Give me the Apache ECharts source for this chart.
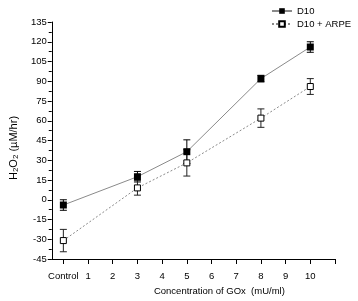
<!DOCTYPE html>
<html>
<head>
<meta charset="utf-8">
<script src="https://cdn.jsdelivr.net/npm/echarts@6/dist/echarts.min.js"></script>
<style>
  html, body { margin: 0; padding: 0; background: #fff; }
  #chart { width: 358px; height: 301px; }
</style>
</head>
<body>
<div id="chart"></div>
<script>
// GOx concentration (mU/ml), Control plotted at 0
const xVals = [0, 3, 5, 8, 10]
const d10 = [-4, 17.5, 36.5, 92, 116]
const d10Err = [4, 4, 9, 2.5, 4]
const arpe = [-31, 9, 28, 62, 86]
const arpeErr = [8.5, 5.5, 10, 7, 6]
const xTickLabels = ['Control', '1', '2', '3', '4', '5', '6', '7', '8', '9', '10']
const yTicks = [-45, -30, -15, 0, 15, 30, 45, 60, 75, 90, 105, 120, 135]

const font = 'Liberation Sans, Arial, sans-serif'

const pairs = (ys) => xVals.map((x, i) => [x, ys[i]])
const errRows = (ys, es) => xVals.map((x, i) => [x, ys[i] - es[i], ys[i] + es[i]])

const errorBars = (name, rows, color) => ({
  name: name,
  type: 'custom',
  z: 1,
  data: rows,
  encode: { x: 0, y: [1, 2] },
  renderItem: function (params, api) {
    const lo = api.coord([api.value(0), api.value(1)])
    const hi = api.coord([api.value(0), api.value(2)])
    const w = 3.5
    const st = { stroke: color, lineWidth: 1 }
    return {
      type: 'group',
      children: [
        { type: 'line', shape: { x1: lo[0], y1: lo[1], x2: hi[0], y2: hi[1] }, style: st },
        { type: 'line', shape: { x1: lo[0] - w, y1: lo[1], x2: lo[0] + w, y2: lo[1] }, style: st },
        { type: 'line', shape: { x1: hi[0] - w, y1: hi[1], x2: hi[0] + w, y2: hi[1] }, style: st }
      ]
    }
  }
})

const myChart = echarts.init(document.getElementById('chart'))
const option = {
  animation: false,
  textStyle: { fontFamily: font },
  grid: { left: 39, right: 23, top: 22, bottom: 42 },
  legend: {
    data: ['D10', 'D10 + ARPE'],
    orient: 'vertical',
    left: 266,
    top: 1,
    itemWidth: 20,
    itemHeight: 7,
    itemGap: 3,
    textStyle: { fontSize: 9.5, color: '#000', fontFamily: font }
  },
  xAxis: {
    type: 'value',
    min: -0.47,
    max: 11,
    name: 'Concentration of GOx  (mU/ml)',
    nameLocation: 'middle',
    nameGap: 25,
    nameTextStyle: { fontSize: 9.5, color: '#000', padding: [0, 0, 0, 52] },
    axisLine: { onZero: false, lineStyle: { color: '#000', width: 1 } },
    axisTick: {
      customValues: [0, 1, 2, 3, 4, 5, 6, 7, 8, 9, 10, 11],
      length: 5,
      lineStyle: { color: '#000' }
    },
    axisLabel: {
      customValues: [0, 1, 2, 3, 4, 5, 6, 7, 8, 9, 10],
      formatter: (v) => xTickLabels[Math.round(v)],
      margin: 12,
      fontSize: 9.5,
      color: '#000'
    },
    splitLine: { show: false }
  },
  yAxis: {
    type: 'value',
    min: -45,
    max: 135,
    interval: 15,
    name: '{t|H}{s|2}{t|O}{s|2}{t| (µM/hr)}',
    nameLocation: 'middle',
    nameGap: 31,
    nameTextStyle: {
      padding: [0, 15, 0, 0],
      rich: {
        t: { fontSize: 11, color: '#000', fontFamily: font },
        s: { fontSize: 8, color: '#000', fontFamily: font, verticalAlign: 'bottom', padding: [5, 0, 0, 0] }
      }
    },
    axisLine: { show: true, onZero: false, lineStyle: { color: '#000', width: 1 } },
    axisTick: { length: 4, lineStyle: { color: '#000' } },
    minorTick: { show: true, splitNumber: 2, length: 3, lineStyle: { color: '#000' } },
    axisLabel: {
      margin: 5,
      fontSize: 9.5,
      color: '#000',
      formatter: (v) => (yTicks.includes(v) ? String(v) : '')
    },
    splitLine: { show: false }
  },
  series: [
    errorBars('D10 err', errRows(d10, d10Err), '#000'),
    errorBars('D10 + ARPE err', errRows(arpe, arpeErr), '#222'),
    {
      name: 'D10',
      type: 'line',
      z: 3,
      data: pairs(d10),
      symbol: 'rect',
      symbolSize: 7,
      itemStyle: { color: '#000', borderColor: '#000', borderWidth: 0 },
      lineStyle: { color: '#8a8a8a', width: 1 }
    },
    {
      name: 'D10 + ARPE',
      type: 'line',
      z: 3,
      data: pairs(arpe),
      symbol: 'rect',
      symbolSize: 6,
      itemStyle: { color: '#fff', borderColor: '#000', borderWidth: 1 },
      lineStyle: { color: '#8a8a8a', width: 1, type: [2, 2] }
    }
  ]
}
myChart.setOption(option)
window.addEventListener('resize', () => {
  myChart.resize()
})
</script>
</body>
</html>
